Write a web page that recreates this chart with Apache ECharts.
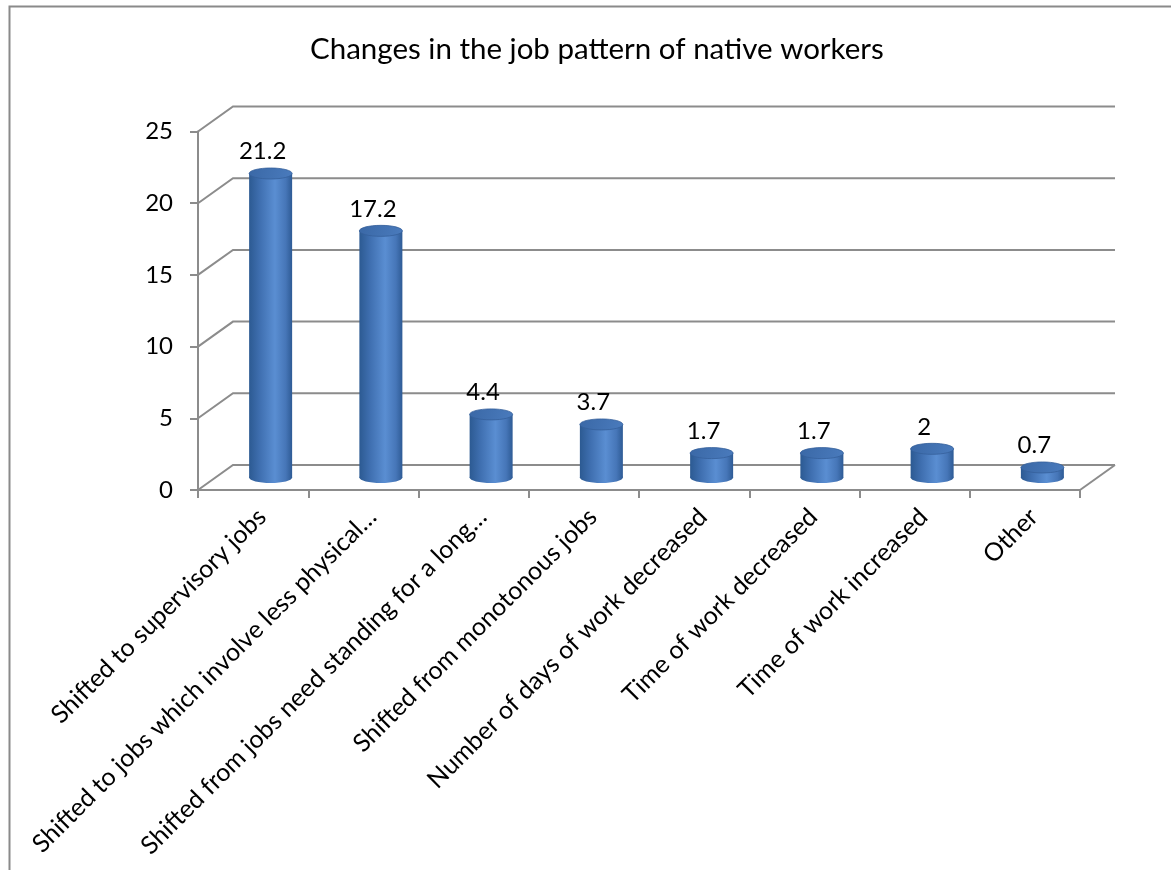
<!DOCTYPE html>
<html>
<head>
<meta charset="utf-8">
<title>Changes in the job pattern of native workers</title>
<script src="https://cdn.jsdelivr.net/npm/echarts@6/dist/echarts.min.js"></script>
<style>
  html, body { margin: 0; padding: 0; background: #ffffff; }
  #chart { width: 1171px; height: 870px; }
</style>
</head>
<body>
<div id="chart"></div>
<script>
// Categories and values
const categories = [
  'Shifted to supervisory jobs',
  'Shifted to jobs which involve less physical\u2026',
  'Shifted from jobs need standing for a long\u2026',
  'Shifted from monotonous jobs',
  'Number of days of work decreased',
  'Time of work decreased',
  'Time of work increased',
  'Other'
];
const values = [21.2, 17.2, 4.4, 3.7, 1.7, 1.7, 2, 0.7];
const yTicks = [0, 5, 10, 15, 20, 25];

// Depth of the pseudo-3D box (back wall offset from the front plane)
const DX = 35, DY = -25;
const FONT = 'Lato, "Open Sans", sans-serif';
const GRID_COLOR = '#8c8c8c';

const chart = echarts.init(document.getElementById('chart'), null, { renderer: 'canvas' });

function wallItem(params, api) {
  const v = api.value(0);
  const band = api.size([1, 0])[0];
  const first = api.coord([0, v]);
  const last = api.coord([categories.length - 1, v]);
  const xl = first[0] - band / 2;
  const xr = last[0] + band / 2;
  const y = first[1];
  const children = [{
    type: 'polyline',
    shape: { points: [[xl, y], [xl + DX, y + DY], [xr + DX, y + DY]] },
    style: { stroke: GRID_COLOR, lineWidth: 2, fill: null }
  }];
  if (v === 0) {
    children.push({
      type: 'line',
      shape: { x1: xr, y1: y, x2: xr + DX, y2: y + DY },
      style: { stroke: GRID_COLOR, lineWidth: 2 }
    });
  }
  return { type: 'group', children: children };
}

function barItem(params, api) {
  const i = api.value(0);
  const v = api.value(1);
  const top = api.coord([i, v]);
  const base = api.coord([i, 0]);
  const cx = top[0] + DX / 2;
  const ty = top[1] + DY / 2;
  const by = base[1] + DY / 2;
  const rx = 21.5, ry = 5.5;
  const bodyFill = new echarts.graphic.LinearGradient(0, 0, 1, 0, [
    { offset: 0, color: '#2c5a92' },
    { offset: 0.25, color: '#3f6fb0' },
    { offset: 0.6, color: '#5a8ed2' },
    { offset: 0.85, color: '#4676b8' },
    { offset: 1, color: '#2e5b95' }
  ]);
  const topFill = new echarts.graphic.LinearGradient(0, 0, 1, 1, [
    { offset: 0, color: '#3a68a6' },
    { offset: 1, color: '#4a7bbd' }
  ]);
  return {
    type: 'group',
    children: [
      { type: 'ellipse', shape: { cx: cx, cy: by, rx: rx, ry: ry }, style: { fill: bodyFill } },
      { type: 'rect', shape: { x: cx - rx, y: ty, width: rx * 2, height: Math.max(0, by - ty) }, style: { fill: bodyFill } },
      { type: 'ellipse', shape: { cx: cx, cy: ty, rx: rx, ry: ry }, style: { fill: topFill, stroke: '#35609a', lineWidth: 0.8 } },
      {
        type: 'text',
        x: cx - 8, y: ty - 22,
        style: {
          text: String(v), fill: '#000000', font: '24px ' + FONT,
          textAlign: 'center', textVerticalAlign: 'middle'
        }
      }
    ]
  };
}

chart.setOption({
  animation: false,
  backgroundColor: '#ffffff',
  title: {
    text: 'Changes in the job pattern of native workers',
    left: 305,
    top: 29,
    textStyle: { color: '#000000', fontFamily: FONT, fontWeight: 'normal', fontSize: 29.5 }
  },
  graphic: [{
    type: 'rect',
    left: 7, top: 4,
    shape: { width: 1200, height: 900 },
    style: { fill: null, stroke: '#8a8a8a', lineWidth: 2 },
    silent: true, z: -10
  }],
  grid: { left: 198, right: 91, top: 131.5, bottom: 380, containLabel: false },
  xAxis: {
    type: 'category',
    data: categories,
    boundaryGap: true,
    axisLine: { show: true, lineStyle: { color: GRID_COLOR, width: 2 } },
    axisTick: { show: true, alignWithLabel: false, length: 8, lineStyle: { color: GRID_COLOR, width: 2 } },
    axisLabel: {
      interval: 0, rotate: 45, margin: 14, verticalAlign: 'top',
      color: '#000000', fontFamily: FONT, fontSize: 25
    },
    splitLine: { show: false }
  },
  yAxis: {
    type: 'value',
    min: 0, max: 25, interval: 5,
    axisLine: { show: true, lineStyle: { color: GRID_COLOR, width: 2 } },
    axisTick: { show: true, length: 8, lineStyle: { color: GRID_COLOR, width: 2 } },
    axisLabel: { margin: 25, color: '#000000', fontFamily: FONT, fontSize: 24 },
    splitLine: { show: false }
  },
  series: [
    {
      name: 'walls',
      type: 'custom',
      renderItem: wallItem,
      data: yTicks.map(function (t) { return [t]; }),
      encode: { y: 0 },
      silent: true,
      z: 1
    },
    {
      name: 'Changes',
      type: 'custom',
      renderItem: barItem,
      data: values.map(function (v, i) { return [i, v]; }),
      encode: { x: 0, y: 1 },
      z: 5
    }
  ]
});
</script>
</body>
</html>
